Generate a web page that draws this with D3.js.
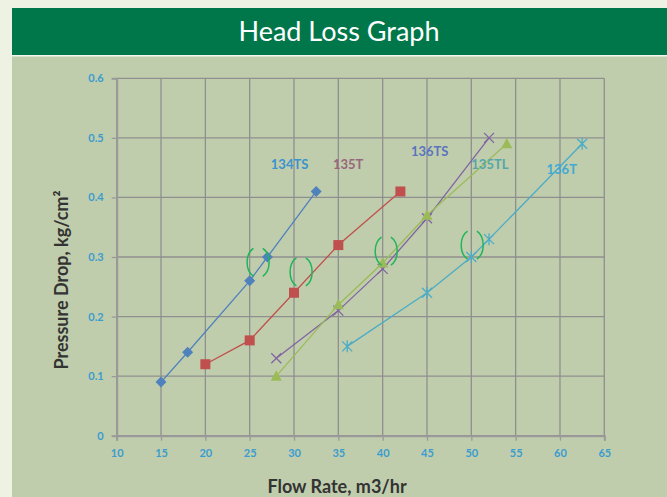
<!DOCTYPE html>
<html>
<head>
<meta charset="utf-8">
<script src="https://cdn.jsdelivr.net/npm/d3@7"></script>
<style>
  body { margin: 0; background: #eef2e3; }
  svg { display: block; }
</style>
</head>
<body>
<svg id="chart" width="667" height="497"></svg>
<script>
// series
const seriesNames = ["134TS", "135T", "136TS", "135TL", "136T"];
const flow134TS = [15, 18, 25, 27, 32.5];
const drop134TS = [0.09, 0.14, 0.26, 0.30, 0.41];
const flow135T = [20, 25, 30, 35, 42];
const drop135T = [0.12, 0.16, 0.24, 0.32, 0.41];
const flow136TS = [28, 35, 40, 45, 52];
const drop136TS = [0.13, 0.21, 0.28, 0.365, 0.50];
const flow135TL = [28, 35, 40, 45, 54];
const drop135TL = [0.10, 0.22, 0.29, 0.37, 0.49];
const flow136T = [36, 45, 50, 52, 62.5];
const drop136T = [0.15, 0.24, 0.30, 0.33, 0.49];

const xTicks = [10, 15, 20, 25, 30, 35, 40, 45, 50, 55, 60, 65];
const yTicks = [0, 0.1, 0.2, 0.3, 0.4, 0.5, 0.6];

// series labels placed in data units
const labelX = [29.5, 36.1, 45.3, 52.1, 60.2];
const labelY = [0.447, 0.447, 0.47, 0.447, 0.44];

// green circled spots
const ringX = [25.95, 30.8, 40.4, 50.1];
const ringY = [0.291, 0.275, 0.31, 0.32];

const colors = ["#4f81bd", "#c0504d", "#8064a2", "#9bbb59", "#4bacc6"];
const labelColors = ["#3b93cf", "#97677d", "#5a74bf", "#55a6a8", "#3fa9d3"];
const markers = ["diamond", "square", "cross", "triangle", "star"];

const series = [
  [flow134TS, drop134TS], [flow135T, drop135T], [flow136TS, drop136TS],
  [flow135TL, drop135TL], [flow136T, drop136T]
].map(([xs, ys], i) => ({
  name: seriesNames[i],
  color: colors[i],
  marker: markers[i],
  points: xs.map((x, j) => ({x: x, y: ys[j]}))
}));

const svg = d3.select("#chart");
const font = "Lato, 'Open Sans', sans-serif";

// backgrounds
svg.append("rect").attr("x", 12).attr("y", 8).attr("width", 655).attr("height", 47)
  .attr("fill", "#00774a");
svg.append("rect").attr("x", 12).attr("y", 55).attr("width", 655).attr("height", 1.5)
  .attr("fill", "#f4f6ee");
svg.append("rect").attr("x", 12).attr("y", 56.5).attr("width", 655).attr("height", 441)
  .attr("fill", "#c0cdac");

svg.append("text")
  .attr("x", 339).attr("y", 41)
  .attr("text-anchor", "middle")
  .attr("font-family", font)
  .attr("font-size", 27)
  .attr("fill", "#ffffff")
  .text("Head Loss Graph");

const x = d3.scaleLinear().domain([10, 65]).range([116.7, 604.3]);
const y = d3.scaleLinear().domain([0, 0.6]).range([435.7, 78.3]);

// grid
const grid = svg.append("g").attr("stroke", "#8f8f8f").attr("stroke-width", 1.3);
grid.selectAll("line.v").data(xTicks).join("line")
  .attr("class", "v")
  .attr("x1", d => x(d)).attr("x2", d => x(d))
  .attr("y1", y(0.6)).attr("y2", y(0));
grid.selectAll("line.h").data(yTicks).join("line")
  .attr("class", "h")
  .attr("x1", x(10)).attr("x2", x(65))
  .attr("y1", d => y(d)).attr("y2", d => y(d));

// axes
const xAxis = svg.append("g")
  .attr("transform", `translate(0,${y(0)})`)
  .call(d3.axisBottom(x).tickValues(xTicks).tickSize(5).tickPadding(9).tickFormat(d3.format("d")));
const yAxis = svg.append("g")
  .attr("transform", `translate(${x(10)},0)`)
  .call(d3.axisLeft(y).tickValues(yTicks).tickSize(5).tickPadding(8)
    .tickFormat(d => d === 0 ? "0" : d3.format(".1f")(d)));
[xAxis, yAxis].forEach(a => {
  a.select(".domain").attr("stroke", "#9a9a9a").attr("stroke-width", 2);
  a.selectAll(".tick line").attr("stroke", "#9a9a9a").attr("stroke-width", 1.3);
  a.selectAll(".tick text")
    .attr("font-family", font).attr("font-size", 11).attr("font-weight", "bold")
    .attr("fill", "#3a9ccf");
});

// axis titles
svg.append("text")
  .attr("x", 337).attr("y", 493)
  .attr("text-anchor", "middle")
  .attr("font-family", font).attr("font-size", 18).attr("font-weight", "bold")
  .attr("fill", "#333333")
  .text("Flow Rate, m3/hr");
svg.append("text")
  .attr("transform", "translate(68,280) rotate(-90)")
  .attr("text-anchor", "middle")
  .attr("font-family", font).attr("font-size", 18).attr("font-weight", "bold")
  .attr("fill", "#333333")
  .text("Pressure Drop, kg/cm²");

// lines
const line = d3.line().x(d => x(d.x)).y(d => y(d.y));
const groups = svg.selectAll("g.series").data(series).join("g").attr("class", "series");
groups.append("path")
  .attr("d", d => line(d.points))
  .attr("fill", "none")
  .attr("stroke", d => d.color)
  .attr("stroke-width", 1.3);

// markers
const draw_marker = function(g, s) {
  const sel = g.selectAll("g.pt").data(s.points).join("g")
    .attr("class", "pt")
    .attr("transform", d => `translate(${x(d.x)},${y(d.y)})`);
  if (s.marker === "diamond") {
    sel.append("path").attr("d", "M0,-5.5L5.5,0L0,5.5L-5.5,0Z").attr("fill", s.color);
  } else if (s.marker === "square") {
    sel.append("rect").attr("x", -5).attr("y", -5).attr("width", 10).attr("height", 10)
      .attr("fill", s.color);
  } else if (s.marker === "triangle") {
    sel.append("path").attr("d", "M0,-6L5.5,4.5L-5.5,4.5Z").attr("fill", s.color);
  } else if (s.marker === "cross") {
    sel.append("path").attr("d", "M-5,-5L5,5M-5,5L5,-5")
      .attr("stroke", s.color).attr("stroke-width", 1.3);
  } else {
    sel.append("path").attr("d", "M-5,-5L5,5M-5,5L5,-5M0,-6L0,6")
      .attr("stroke", s.color).attr("stroke-width", 1.3);
  }
};
groups.each(function(s) { draw_marker(d3.select(this), s); });

// series labels
svg.selectAll("text.lbl").data(seriesNames).join("text")
  .attr("class", "lbl")
  .attr("x", (d, i) => x(labelX[i]))
  .attr("y", (d, i) => y(labelY[i]))
  .attr("text-anchor", "middle")
  .attr("font-family", font).attr("font-size", 13).attr("font-weight", "bold")
  .attr("fill", (d, i) => labelColors[i])
  .text(d => d);

// green rings, drawn as two arcs with gaps top and bottom
svg.selectAll("ellipse.ring").data(ringX).join("ellipse")
  .attr("class", "ring")
  .attr("cx", d => x(d))
  .attr("cy", (d, i) => y(ringY[i]))
  .attr("rx", 11).attr("ry", 15.5)
  .attr("pathLength", 100)
  .attr("fill", "none")
  .attr("stroke", "#1fb55a")
  .attr("stroke-width", 1.5)
  .attr("stroke-dasharray", "38 12")
  .attr("stroke-dashoffset", 19);
</script>
</body>
</html>
